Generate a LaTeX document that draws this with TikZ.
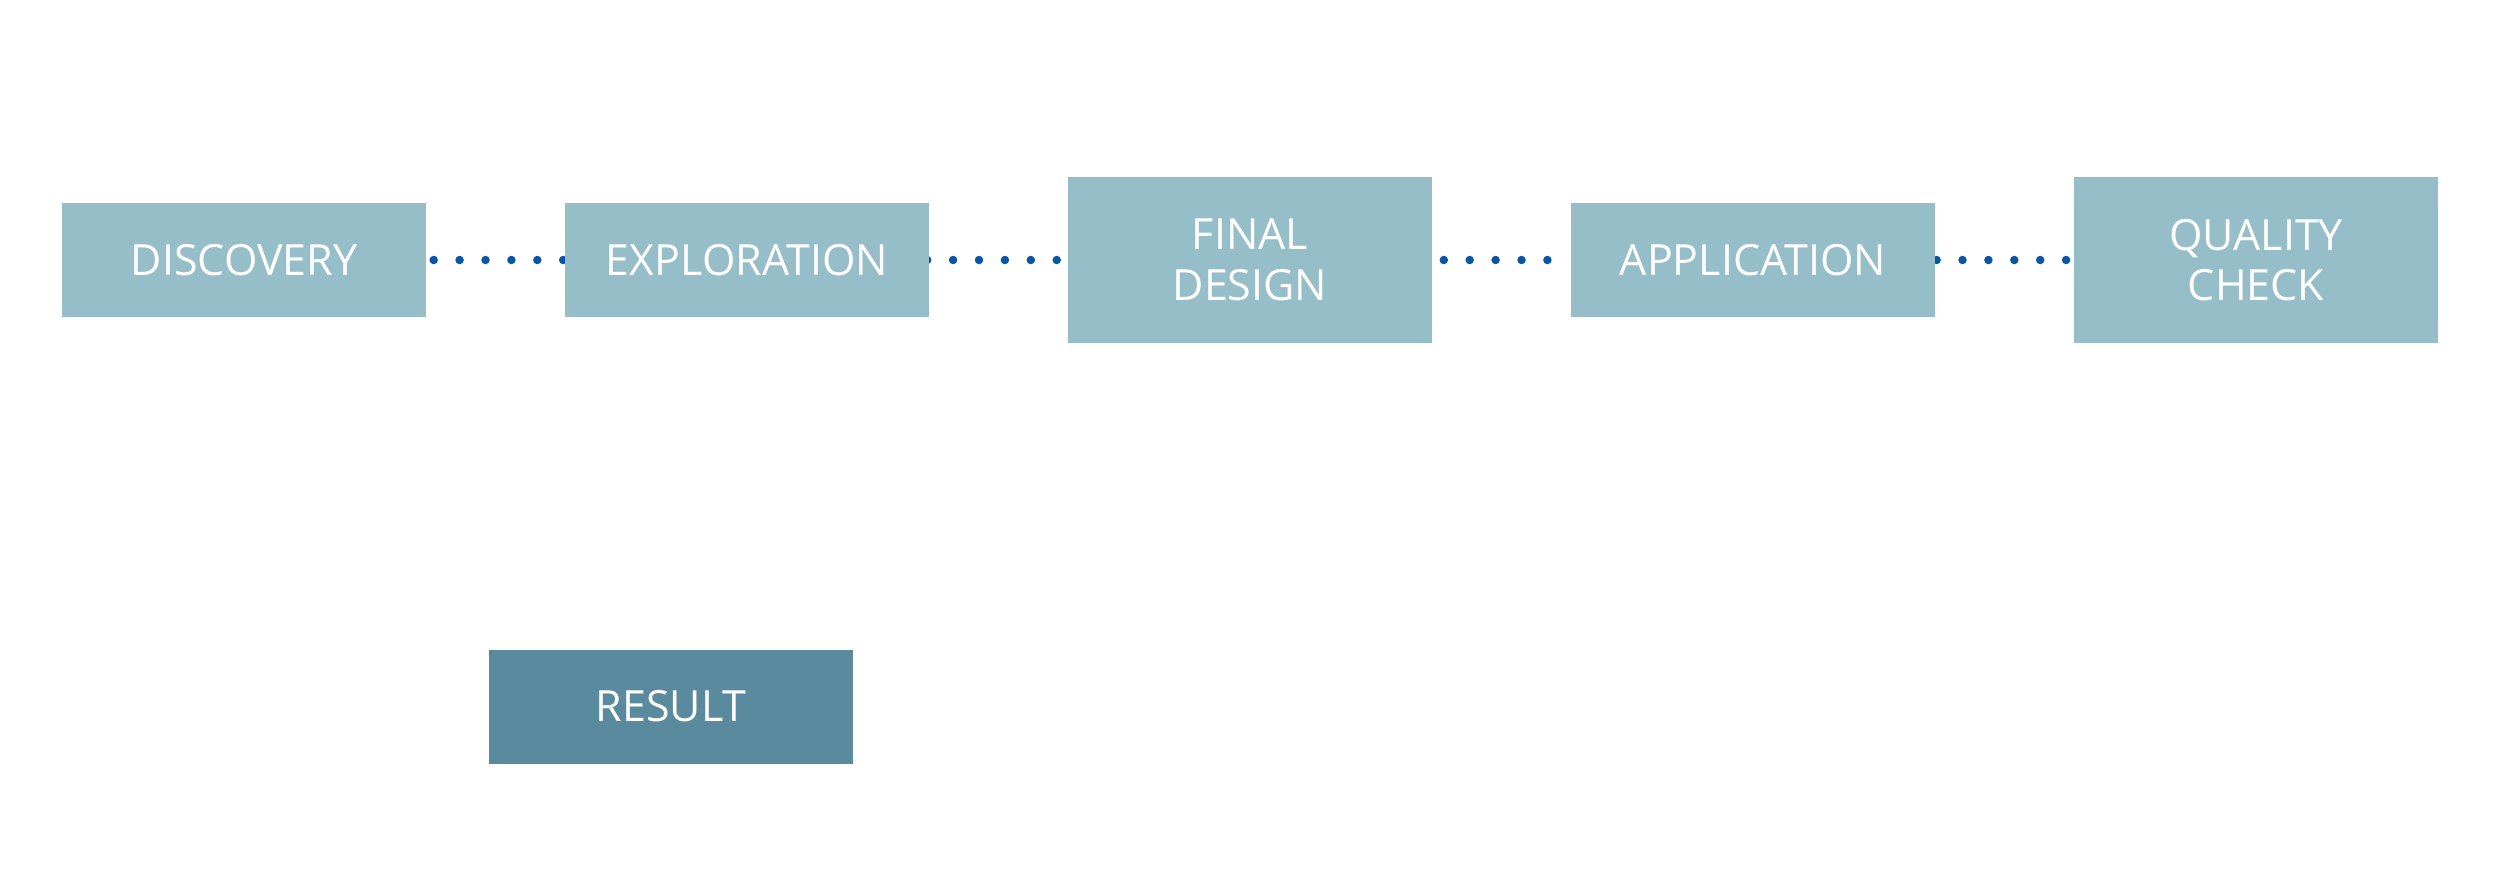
\documentclass[tikz,border=0pt]{standalone}
\usepackage{fontspec}
\setmainfont{Open Sans}
\usetikzlibrary{backgrounds}
\definecolor{boxlight}{HTML}{96BEC8}
\definecolor{boxdark}{HTML}{5A8A9D}
\definecolor{dotblue}{HTML}{0A55A5}
\tikzset{
  stage/.style={fill=boxlight, draw=none, inner sep=0pt, minimum width=364pt,
    minimum height=114pt, text=white, align=center,
    font=\fontsize{43pt}{50.5pt}\selectfont},
  tallstage/.style={stage, minimum height=166pt},
  resultbox/.style={stage, fill=boxdark},
  dotline/.style={draw=dotblue, line width=8.5pt, line cap=round,
    dash pattern=on 0pt off 25.9pt}
}
\begin{document}
\begin{tikzpicture}[x=1pt, y=-1pt]
\useasboundingbox (0,0) rectangle (2500,868);
\node[stage] (disc) at (244,260) {DISCOVERY};
\node[stage] (expl) at (747,260) {EXPLORATION};
\node[tallstage] (final) at (1250,260) {FINAL\\DESIGN};
\node[stage] (appl) at (1753,260) {APPLICATION};
\node[tallstage] (qual) at (2256,260) {QUALITY\\CHECK};
\node[resultbox] (res) at (671,706.5) {RESULT};
\begin{scope}[on background layer]
\fill[white] (0,0) rectangle (2500,868);
\draw[dotline] ([xshift=7.5pt]disc.east) -- (expl.west);
\draw[dotline] ([xshift=-2pt]expl.east) -- (final.west);
\draw[dotline] ([xshift=11.6pt]final.east) -- (appl.west);
\draw[dotline] ([xshift=1.4pt]appl.east) -- (qual.west);
\end{scope}
\end{tikzpicture}
\end{document}
